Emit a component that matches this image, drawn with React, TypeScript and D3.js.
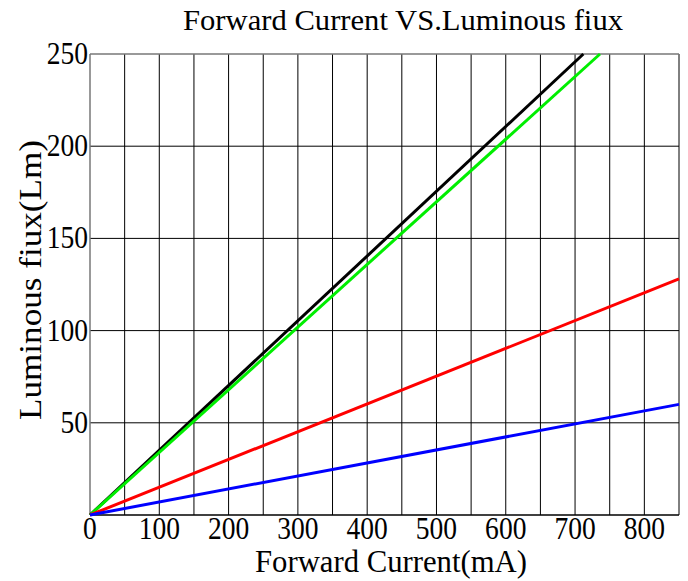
import React from "react";
import * as d3 from "d3";

const xTicks = [0, 100, 200, 300, 400, 500, 600, 700, 800];
const yTicks = [50, 100, 150, 200, 250];
const xGrid = [50, 100, 150, 200, 250, 300, 350, 400, 450, 500, 550, 600, 650, 700, 750, 800, 850];
const yGrid = [50, 100, 150, 200];

const currentBlack = [0, 712];
const fluxBlack = [0, 250];
const currentGreen = [0, 736];
const fluxGreen = [0, 250];
const currentRed = [0, 850];
const fluxRed = [0, 128];
const currentBlue = [0, 850];
const fluxBlue = [0, 60];

const series = [
  { name: "black", color: "#000000", xs: currentBlack, ys: fluxBlack },
  { name: "green", color: "#00ee00", xs: currentGreen, ys: fluxGreen },
  { name: "red", color: "#ff0000", xs: currentRed, ys: fluxRed },
  { name: "blue", color: "#0000ff", xs: currentBlue, ys: fluxBlue },
];

export default function App() {
  const W = 688, H = 581;
  const L = 90, R = 679, T = 54, B = 515;
  const x = d3.scaleLinear().domain([0, 850]).range([L, R]);
  const y = d3.scaleLinear().domain([0, 250]).range([B, T]);
  const line = d3
    .line<[number, number]>()
    .x((d) => x(d[0]))
    .y((d) => y(d[1]));
  const font = '"Liberation Serif", Tinos, "Times New Roman", Times, serif';
  return (
    <svg
      width={W}
      height={H}
      style={{ position: "absolute", left: 0, top: 0, background: "#fff", fontFamily: font }}
    >
      <rect x={0} y={0} width={W} height={H} fill="#fff" />
      {xGrid.map((v) => (
        <line key={"xg" + v} x1={x(v)} x2={x(v)} y1={T} y2={B} stroke="#000" strokeWidth={1} />
      ))}
      {yGrid.map((v) => (
        <line key={"yg" + v} x1={L} x2={R} y1={y(v)} y2={y(v)} stroke="#000" strokeWidth={1} />
      ))}
      <line x1={L} x2={R} y1={T} y2={T} stroke="#777" strokeWidth={1.5} />
      <line x1={L} x2={L} y1={T} y2={B} stroke="#777" strokeWidth={1.5} />
      <line x1={L} x2={R} y1={B} y2={B} stroke="#000" strokeWidth={1.5} />
      {series.map((s) => (
        <path
          key={s.name}
          d={line(s.xs.map((v, i) => [v, s.ys[i]] as [number, number])) || ""}
          fill="none"
          stroke={s.color}
          strokeWidth={3}
        />
      ))}
      {xTicks.map((v) => (
        <text
          key={"xt" + v}
          x={0}
          y={0}
          textAnchor="middle"
          fontSize={29}
          transform={`translate(${x(v)},539) scale(0.95,1.08)`}
        >
          {v}
        </text>
      ))}
      {yTicks.map((v) => (
        <text
          key={"yt" + v}
          x={0}
          y={0}
          textAnchor="end"
          fontSize={29}
          transform={`translate(88,${y(v) + 10}) scale(0.95,1.08)`}
        >
          {v}
        </text>
      ))}
      <text
        x={183}
        y={30}
        fontSize={30}
        textLength={440}
        lengthAdjust="spacingAndGlyphs"
      >
        Forward Current VS.Luminous fiux
      </text>
      <text
        x={255}
        y={572}
        fontSize={31}
        textLength={272}
        lengthAdjust="spacingAndGlyphs"
      >
        Forward Current(mA)
      </text>
      <text
        transform="translate(41,420) rotate(-90)"
        x={0}
        y={0}
        fontSize={31}
        textLength={280}
        lengthAdjust="spacingAndGlyphs"
      >
        Luminous fiux(Lm)
      </text>
    </svg>
  );
}
